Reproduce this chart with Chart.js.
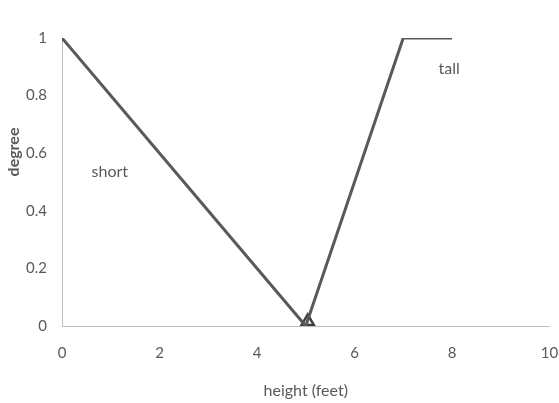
<!DOCTYPE html>
<html>
<head>
<meta charset="utf-8">
<script src="https://cdn.jsdelivr.net/npm/chart.js@4"></script>
<style>
  html, body { margin: 0; padding: 0; background: #fff; }
  #wrap { width: 559px; height: 403px; position: relative; }
</style>
</head>
<body>
<div id="wrap"><canvas id="fuzzy_chart"></canvas></div>
<script>
    // membership functions
    var short_x = [0, 2.5, 5];
    var short_y = [1, 0.5, 0];
    var tall_x = [5, 7, 8];
    var tall_y = [0, 1, 1];
    // the little triangle marker sitting on the axis
    var marker_x = [5.04];
    var marker_y = [0.016];

    var x_ticks = [0, 2, 4, 6, 8, 10];
    var y_ticks = [0, 0.2, 0.4, 0.6, 0.8, 1];

    // text labels inside the plot (data coordinates)
    var label_text = ['short', 'tall'];
    var label_x = [0.98, 7.94];
    var label_y = [0.535, 0.892];

    var lineColor = '#595959';
    var axisColor = '#bfbfbf';
    var textColor = '#595959';
    var fontFamily = "Lato, 'Open Sans', sans-serif";

    function toPoints(xs, ys) {
        return xs.map(function (x, i) { return { x: x, y: ys[i] }; });
    }

    // draws the in-plot labels and the y axis title
    var textPlugin = {
        id: 'fuzzy_text',
        afterDraw: function (chart) {
            var ctx = chart.ctx;
            var xs = chart.scales.x;
            var ys = chart.scales.y;
            ctx.save();
            ctx.fillStyle = textColor;
            ctx.font = '16px ' + fontFamily;
            ctx.textAlign = 'center';
            ctx.textBaseline = 'middle';
            label_text.forEach(function (t, i) {
                ctx.fillText(t, xs.getPixelForValue(label_x[i]), ys.getPixelForValue(label_y[i]));
            });
            ctx.translate(14, 152);
            ctx.rotate(-Math.PI / 2);
            ctx.font = 'bold 16px ' + fontFamily;
            ctx.fillText('degree', 0, 0);
            ctx.restore();
        }
    };

    var ctx = document.getElementById('fuzzy_chart');
    var fuzzy_chart = new Chart(ctx, {
        type: 'line',
        data: {
            datasets: [
                {
                    label: 'short',
                    data: toPoints(short_x, short_y),
                    borderColor: lineColor,
                    borderWidth: 3,
                    pointRadius: 0,
                    fill: false,
                    tension: 0
                },
                {
                    label: 'tall',
                    data: toPoints(tall_x, tall_y),
                    borderColor: lineColor,
                    borderWidth: 3,
                    pointRadius: 0,
                    fill: false,
                    tension: 0
                },
                {
                    label: 'marker',
                    data: toPoints(marker_x, marker_y),
                    showLine: false,
                    pointStyle: 'triangle',
                    pointRadius: 7,
                    pointBorderWidth: 2.5,
                    pointBorderColor: '#404040',
                    pointBackgroundColor: 'rgba(255,255,255,0)'
                }
            ]
        },
        options: {
            responsive: true,
            maintainAspectRatio: false,
            animation: false,
            layout: {
                padding: { top: 38, right: 6, bottom: 0, left: 0 }
            },
            plugins: {
                legend: { display: false },
                tooltip: { enabled: false }
            },
            scales: {
                x: {
                    type: 'linear',
                    min: 0,
                    max: 10,
                    afterBuildTicks: function (scale) {
                        scale.ticks = x_ticks.map(function (v) { return { value: v }; });
                    },
                    afterFit: function (scale) {
                        scale.height = 77;
                        scale.paddingLeft = 0;
                        scale.paddingRight = 0;
                    },
                    grid: { display: false, drawTicks: false },
                    border: { display: true, color: axisColor, width: 1 },
                    ticks: {
                        padding: 18,
                        color: textColor,
                        font: { family: fontFamily, size: 15 },
                        maxRotation: 0,
                        callback: function (v) { return String(v); }
                    },
                    title: {
                        display: true,
                        text: 'height (feet)',
                        color: textColor,
                        font: { family: fontFamily, size: 16 },
                        padding: { top: 0, bottom: 3 }
                    }
                },
                y: {
                    min: 0,
                    max: 1,
                    afterBuildTicks: function (scale) {
                        scale.ticks = y_ticks.map(function (v) { return { value: v }; });
                    },
                    afterFit: function (scale) {
                        scale.width = 62;
                    },
                    grid: { display: false, drawTicks: false },
                    border: { display: true, color: axisColor, width: 1 },
                    ticks: {
                        padding: 15,
                        color: textColor,
                        font: { family: fontFamily, size: 15 },
                        callback: function (v) { return String(v); }
                    }
                }
            }
        },
        plugins: [textPlugin]
    });
</script>
</body>
</html>
